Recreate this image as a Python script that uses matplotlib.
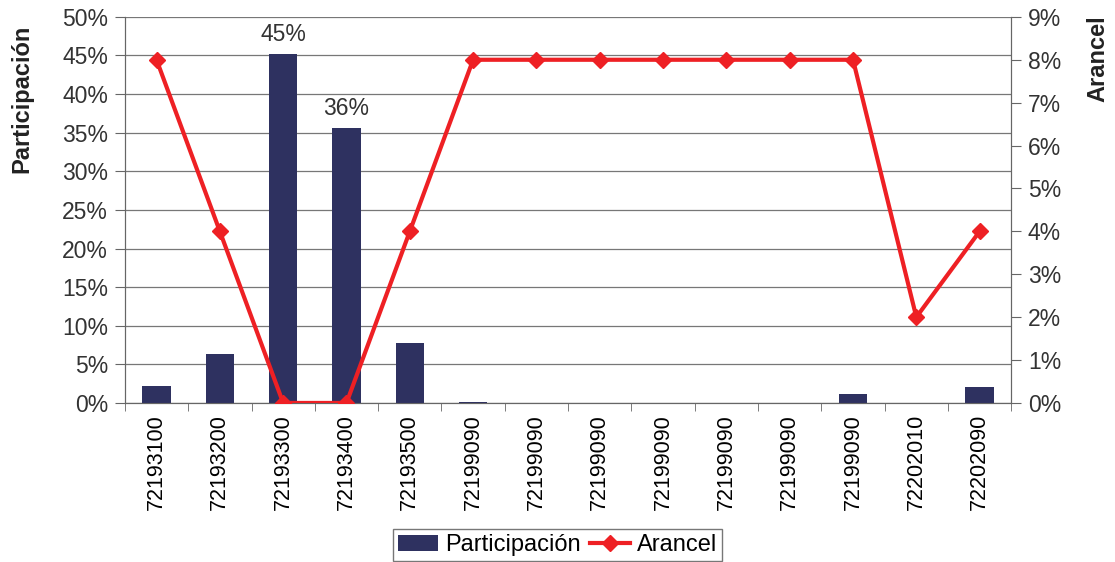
import numpy as np
import matplotlib.pyplot as plt
from matplotlib.ticker import PercentFormatter

codes = ["72193100", "72193200", "72193300", "72193400", "72193500",
         "72199090", "72199090", "72199090", "72199090", "72199090",
         "72199090", "72199090", "72202010", "72202090"]
participacion = [2.2, 6.3, 45.2, 35.6, 7.8, 0.1, 0.0, 0.0, 0.0, 0.0, 0.0, 1.1, 0.0, 2.1]
arancel = [8, 4, 0, 0, 4, 8, 8, 8, 8, 8, 8, 8, 2, 4]
labelled = {2: "45%", 3: "36%"}

plt.rcParams['font.family'] = ['Liberation Sans', 'DejaVu Sans']

fig = plt.figure(figsize=(11.15, 5.62), dpi=100)
ax = fig.add_axes([0.112, 0.283, 0.795, 0.687])
ax2 = ax.twinx()

x = np.arange(len(codes))
ax.bar(x, participacion, width=0.45, color='#2E3160', label='Participación', zorder=3)
for i, txt in labelled.items():
    ax.text(x[i], participacion[i] + 1.0, txt, ha='center', va='bottom', fontsize=16.5, color='#333333')

ax2.plot(x, arancel, color='#EE2024', lw=3, marker='D', ms=8, label='Arancel', zorder=4)

ax.set_xlim(-0.5, len(codes) - 0.5)
ax.set_ylim(0, 50)
ax.set_yticks(np.arange(0, 51, 5))
ax.yaxis.set_major_formatter(PercentFormatter(decimals=0))
ax2.set_ylim(0, 9)
ax2.set_yticks(np.arange(0, 10, 1))
ax2.yaxis.set_major_formatter(PercentFormatter(decimals=0))

ax.set_xticks(x)
ax.set_xticklabels(codes, rotation=90, fontsize=15.5)
ax.set_xticks(np.arange(-0.5, len(codes)), minor=True)
ax.tick_params(axis='x', which='major', length=0, pad=8)
ax.tick_params(axis='x', which='minor', length=6, color='#666666')
ax.tick_params(axis='y', labelsize=16.5, length=7, pad=5, color='#666666', labelcolor='#333333')
ax2.tick_params(axis='y', labelsize=16.5, length=7, pad=5, color='#666666', labelcolor='#333333')

ax.grid(axis='y', color='#777777', lw=0.9, zorder=0)
for a in (ax, ax2):
    for s in a.spines.values():
        s.set_color('#666666')
    a.spines['top'].set_visible(False)

fig.text(0.020, 0.957, 'Participación', rotation=90, ha='center', va='top',
         fontsize=17, fontweight='bold', color='#222222')
fig.text(0.985, 0.973, 'Arancel', rotation=90, ha='center', va='top',
         fontsize=17, fontweight='bold', color='#222222')

h1, l1 = ax.get_legend_handles_labels()
h2, l2 = ax2.get_legend_handles_labels()
fig.legend(h1 + h2, l1 + l2, loc='center', bbox_to_anchor=(0.5, 0.03), ncol=2,
           fontsize=17, frameon=True, fancybox=False, edgecolor='#555555',
           handlelength=1.7, columnspacing=0.4, handletextpad=0.3, borderpad=0.2,
           borderaxespad=0)

fig.savefig('out.png', dpi=100)
